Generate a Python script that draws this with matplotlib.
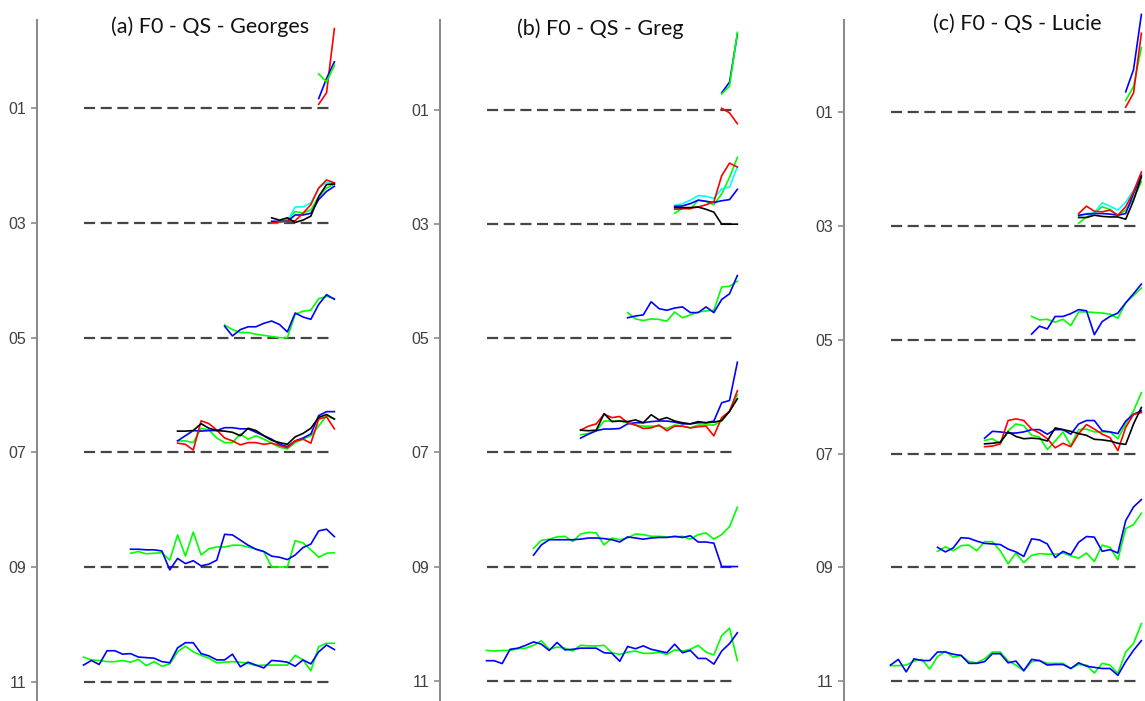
import numpy as np
import matplotlib
matplotlib.use("Agg")
import matplotlib.pyplot as plt

# F0 contour heights above each baseline (axis units), every series ends at frame 32
georges_01 = dict(r=[0.07, 0.27, 1.39], b=[0.17, 0.52, 0.81], g=[0.60, 0.46, 0.75])
georges_03 = dict(
    g=[0.00, 0.03, 0.06, 0.20, 0.17, 0.23, 0.46, 0.61, 0.68],
    c=[0.00, 0.01, 0.03, 0.28, 0.28, 0.35, 0.61, 0.71, 0.68],
    b=[0.03, 0.03, 0.03, 0.14, 0.14, 0.17, 0.41, 0.55, 0.64],
    r=[0.00, 0.02, 0.03, 0.04, 0.17, 0.32, 0.61, 0.75, 0.70],
    k=[0.09, 0.05, 0.09, 0.01, 0.05, 0.12, 0.46, 0.67, 0.68])
georges_05 = dict(
    g=[0.22, 0.14, 0.09, 0.09, 0.06, 0.04, 0.02, 0.00, 0.00, 0.41, 0.46, 0.48, 0.68, 0.72, 0.68],
    b=[0.20, 0.03, 0.14, 0.19, 0.19, 0.25, 0.29, 0.23, 0.10, 0.43, 0.36, 0.32, 0.58, 0.75, 0.67])
georges_07 = dict(
    g=[0.20, 0.20, 0.17, 0.42, 0.39, 0.25, 0.17, 0.17, 0.32, 0.23, 0.29, 0.23, 0.16, 0.09, 0.06, 0.17, 0.23, 0.29, 0.46, 0.64, 0.58],
    b=[0.20, 0.29, 0.38, 0.37, 0.38, 0.38, 0.43, 0.43, 0.41, 0.41, 0.35, 0.29, 0.23, 0.14, 0.10, 0.20, 0.25, 0.32, 0.64, 0.71, 0.71],
    r=[0.16, 0.14, 0.04, 0.55, 0.50, 0.39, 0.25, 0.20, 0.13, 0.17, 0.17, 0.14, 0.16, 0.12, 0.08, 0.20, 0.23, 0.16, 0.58, 0.62, 0.41],
    k=[0.37, 0.37, 0.38, 0.50, 0.42, 0.38, 0.37, 0.35, 0.29, 0.42, 0.38, 0.29, 0.21, 0.17, 0.14, 0.27, 0.33, 0.42, 0.61, 0.66, 0.58])
georges_09 = dict(
    g=[0.24, 0.27, 0.23, 0.24, 0.25, 0.12, 0.56, 0.19, 0.61, 0.21, 0.32, 0.35, 0.35, 0.38, 0.38, 0.35, 0.31, 0.27,
       0.00, 0.00, 0.00, 0.46, 0.42, 0.30, 0.17, 0.24, 0.25],
    b=[0.31, 0.31, 0.30, 0.30, 0.28, -0.05, 0.15, 0.06, 0.11, 0.02, 0.05, 0.12, 0.57, 0.56, 0.47, 0.38, 0.31, 0.27,
       0.19, 0.17, 0.13, 0.21, 0.34, 0.40, 0.63, 0.66, 0.53])
georges_11 = dict(
    g=[0.43, 0.38, 0.37, 0.35, 0.35, 0.37, 0.34, 0.39, 0.28, 0.35, 0.27, 0.31, 0.52, 0.62, 0.52, 0.46, 0.41, 0.33,
       0.34, 0.35, 0.34, 0.32, 0.28, 0.29, 0.29, 0.29, 0.29, 0.46, 0.38, 0.19, 0.61, 0.67, 0.67],
    b=[0.29, 0.37, 0.30, 0.54, 0.54, 0.48, 0.49, 0.43, 0.42, 0.41, 0.35, 0.33, 0.59, 0.68, 0.68, 0.49, 0.45, 0.38,
       0.38, 0.48, 0.26, 0.34, 0.29, 0.24, 0.37, 0.36, 0.34, 0.27, 0.38, 0.31, 0.52, 0.64, 0.56])

greg_01 = dict(b=[0.30, 0.49, 1.33], g=[0.28, 0.42, 1.36], r=[0.03, -0.05, -0.24])
greg_03 = dict(
    g=[0.19, 0.28, 0.26, 0.42, 0.40, 0.34, 0.53, 0.82, 1.17],
    c=[0.33, 0.36, 0.42, 0.50, 0.49, 0.45, 0.62, 0.65, 1.00],
    b=[0.31, 0.32, 0.36, 0.42, 0.40, 0.38, 0.41, 0.43, 0.61],
    r=[0.26, 0.27, 0.28, 0.30, 0.34, 0.39, 0.85, 1.07, 1.00],
    k=[0.29, 0.29, 0.29, 0.30, 0.26, 0.21, 0.00, 0.00, 0.00])
greg_05 = dict(
    g=[0.45, 0.34, 0.31, 0.34, 0.33, 0.30, 0.46, 0.36, 0.41, 0.46, 0.48, 0.49, 0.90, 0.91, 1.00],
    b=[0.36, 0.39, 0.41, 0.64, 0.52, 0.49, 0.53, 0.55, 0.45, 0.45, 0.55, 0.45, 0.68, 0.78, 1.10])
greg_07 = dict(
    g=[0.31, 0.33, 0.38, 0.55, 0.55, 0.55, 0.52, 0.48, 0.46, 0.46, 0.46, 0.42, 0.48, 0.46, 0.43, 0.48, 0.48, 0.48, 0.55, 0.72, 1.01],
    b=[0.25, 0.32, 0.38, 0.41, 0.41, 0.42, 0.50, 0.52, 0.52, 0.54, 0.55, 0.55, 0.53, 0.50, 0.50, 0.52, 0.52, 0.55, 0.87, 0.91, 1.58],
    r=[0.39, 0.46, 0.50, 0.67, 0.61, 0.63, 0.52, 0.48, 0.42, 0.43, 0.48, 0.38, 0.46, 0.46, 0.43, 0.45, 0.46, 0.29, 0.61, 0.72, 1.08],
    k=[0.39, 0.38, 0.39, 0.68, 0.54, 0.55, 0.54, 0.57, 0.52, 0.66, 0.57, 0.61, 0.55, 0.52, 0.50, 0.54, 0.52, 0.53, 0.56, 0.72, 0.94])
greg_09 = dict(
    g=[0.32, 0.46, 0.48, 0.52, 0.53, 0.44, 0.57, 0.60, 0.59, 0.38, 0.50, 0.47, 0.50, 0.57, 0.56, 0.53, 0.53, 0.52,
       0.52, 0.53, 0.48, 0.56, 0.59, 0.48, 0.56, 0.70, 1.04],
    b=[0.20, 0.38, 0.47, 0.47, 0.47, 0.47, 0.48, 0.50, 0.50, 0.49, 0.47, 0.43, 0.52, 0.50, 0.48, 0.50, 0.51, 0.51,
       0.53, 0.51, 0.54, 0.43, 0.43, 0.41, 0.00, 0.00, 0.00])
greg_11 = dict(
    g=[0.53, 0.52, 0.53, 0.53, 0.56, 0.57, 0.62, 0.70, 0.55, 0.59, 0.57, 0.52, 0.62, 0.61, 0.61, 0.62, 0.49, 0.46,
       0.50, 0.52, 0.48, 0.48, 0.50, 0.46, 0.54, 0.52, 0.55, 0.62, 0.50, 0.45, 0.79, 0.92, 0.35],
    b=[0.35, 0.35, 0.30, 0.55, 0.57, 0.62, 0.68, 0.64, 0.53, 0.67, 0.54, 0.55, 0.57, 0.57, 0.57, 0.49, 0.48, 0.34,
       0.60, 0.56, 0.61, 0.55, 0.52, 0.49, 0.64, 0.49, 0.53, 0.39, 0.39, 0.29, 0.52, 0.65, 0.84])

lucie_01 = dict(g=[0.21, 0.45, 1.14], r=[0.09, 0.34, 1.39], b=[0.36, 0.75, 1.72])
lucie_03 = dict(
    g=[0.05, 0.16, 0.23, 0.34, 0.29, 0.19, 0.28, 0.48, 0.78],
    c=[0.17, 0.22, 0.23, 0.41, 0.35, 0.28, 0.42, 0.63, 0.92],
    b=[0.19, 0.21, 0.22, 0.22, 0.21, 0.19, 0.22, 0.57, 0.89],
    r=[0.22, 0.35, 0.26, 0.25, 0.28, 0.19, 0.34, 0.60, 0.95],
    k=[0.15, 0.15, 0.19, 0.17, 0.16, 0.16, 0.12, 0.45, 0.86])
lucie_05 = dict(
    g=[0.41, 0.35, 0.36, 0.31, 0.36, 0.25, 0.49, 0.49, 0.48, 0.47, 0.45, 0.38, 0.65, 0.78, 0.91],
    b=[0.10, 0.24, 0.19, 0.41, 0.41, 0.46, 0.53, 0.51, 0.09, 0.32, 0.41, 0.47, 0.65, 0.81, 0.98])
lucie_07 = dict(
    g=[0.23, 0.26, 0.17, 0.40, 0.52, 0.49, 0.32, 0.29, 0.07, 0.22, 0.38, 0.14, 0.42, 0.43, 0.38, 0.38, 0.38, 0.26, 0.52, 0.75, 1.07],
    b=[0.27, 0.39, 0.38, 0.36, 0.36, 0.38, 0.42, 0.42, 0.34, 0.42, 0.42, 0.34, 0.52, 0.58, 0.58, 0.40, 0.38, 0.35, 0.57, 0.69, 0.75],
    r=[0.12, 0.13, 0.17, 0.58, 0.61, 0.58, 0.43, 0.36, 0.26, 0.10, 0.18, 0.12, 0.35, 0.51, 0.43, 0.34, 0.28, 0.05, 0.46, 0.69, 0.72],
    k=[0.17, 0.18, 0.20, 0.38, 0.30, 0.26, 0.27, 0.26, 0.22, 0.45, 0.42, 0.39, 0.35, 0.32, 0.25, 0.24, 0.22, 0.18, 0.16, 0.52, 0.81])
lucie_09 = dict(
    g=[0.28, 0.36, 0.29, 0.38, 0.39, 0.29, 0.45, 0.45, 0.29, 0.06, 0.25, 0.08, 0.21, 0.24, 0.23, 0.23, 0.25, 0.20,
       0.16, 0.25, 0.10, 0.39, 0.35, 0.13, 0.68, 0.75, 0.95],
    b=[0.35, 0.27, 0.34, 0.52, 0.51, 0.46, 0.42, 0.41, 0.40, 0.32, 0.27, 0.19, 0.50, 0.48, 0.41, 0.17, 0.28, 0.22,
       0.44, 0.54, 0.53, 0.28, 0.31, 0.25, 0.82, 1.06, 1.19])
lucie_11 = dict(
    g=[0.27, 0.27, 0.28, 0.35, 0.38, 0.21, 0.43, 0.52, 0.42, 0.45, 0.34, 0.32, 0.39, 0.51, 0.51, 0.35, 0.28, 0.18,
       0.34, 0.36, 0.31, 0.31, 0.31, 0.22, 0.29, 0.28, 0.14, 0.31, 0.28, 0.13, 0.51, 0.66, 1.01],
    b=[0.28, 0.38, 0.16, 0.39, 0.36, 0.36, 0.51, 0.51, 0.47, 0.45, 0.31, 0.31, 0.34, 0.48, 0.48, 0.32, 0.35, 0.18,
       0.38, 0.36, 0.28, 0.29, 0.29, 0.22, 0.32, 0.26, 0.24, 0.22, 0.22, 0.10, 0.34, 0.54, 0.71])

baselines = [1, 3, 5, 7, 9, 11]
tick_labels = ['01', '03', '05', '07', '09', '11']
titles = ['(a) F0 - QS - Georges', '(b) F0 - QS - Greg', '(c) F0 - QS - Lucie']
groups = [
    [georges_01, georges_03, georges_05, georges_07, georges_09, georges_11],
    [greg_01, greg_03, greg_05, greg_07, greg_09, greg_11],
    [lucie_01, lucie_03, lucie_05, lucie_07, lucie_09, lucie_11],
]
colors = {'r': '#ff0000', 'b': '#0000ff', 'g': '#00ff00', 'c': '#00ffff', 'k': '#000000'}
n_frames = 33

# layout in pixels (figure 1145 x 701)
W, H = 1145, 701
axis_x = [37, 440, 844]
row01_y = [108.3, 110.0, 112.3]
row11_y = [681.7, 680.7, 681.0]
title_xy = [(210, 27), (600, 29), (1017, 24)]
ax_top = 20
ax_w = 310
x0_off = 46.5
px_per_frame = 7.84

plt.rcParams['lines.scale_dashes'] = False
fig = plt.figure(figsize=(W / 100, H / 100), dpi=100)

for p in range(3):
    ax = fig.add_axes([axis_x[p] / W, 0, ax_w / W, (H - ax_top) / H])
    s = (row11_y[p] - row01_y[p]) / 10
    ax.set_ylim(11 + (H - row11_y[p]) / s, 1 - (row01_y[p] - ax_top) / s)
    ax.set_xlim(-x0_off / px_per_frame, (ax_w - x0_off) / px_per_frame)

    for base in baselines:
        ax.plot([0, n_frames - 1], [base, base], color='#454545', lw=1.6,
                dashes=(8, 4), zorder=1)

    for base, grp in zip(baselines, groups[p]):
        for key, vals in grp.items():
            x = np.arange(n_frames - len(vals), n_frames)
            ax.plot(x, base - np.array(vals), color=colors[key], lw=1.2,
                    zorder=2, clip_on=False)

    for side in ['top', 'right', 'bottom']:
        ax.spines[side].set_visible(False)
    ax.spines['left'].set_color('#8c8c8c')
    ax.spines['left'].set_linewidth(1.5)
    ax.set_xticks([])
    ax.set_yticks(baselines)
    ax.set_yticklabels(tick_labels, fontsize=11.5, color='#404040',
                       family='Liberation Sans')
    ax.tick_params(axis='y', direction='out', length=4, width=1.2,
                   color='#8c8c8c', pad=4)
    ax.patch.set_alpha(0)

    fig.text(title_xy[p][0] / W, 1 - title_xy[p][1] / H, titles[p],
             ha='center', va='center', fontsize=15.5, family='Lato', color='#111111')

fig.savefig('out.png', dpi=100)
